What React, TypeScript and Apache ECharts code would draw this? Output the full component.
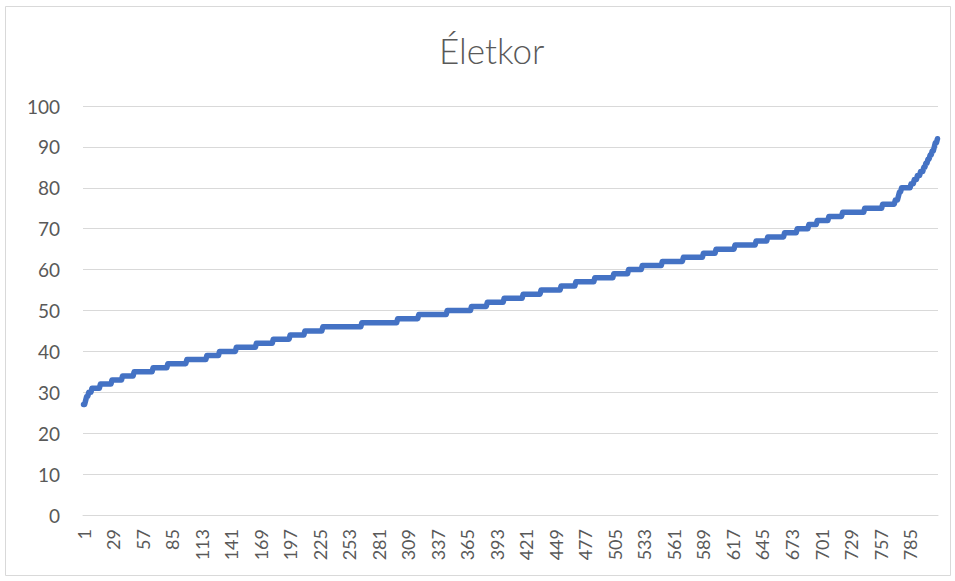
import React, { useEffect, useRef } from "react";
import * as echarts from "echarts";

const chartTitle = "Életkor";

// Sorted ages: each age and how many people have it
const ages = [
  27, 28, 29, 30, 31, 32, 33, 34, 35, 36, 37, 38, 39, 40, 41, 42, 43, 44, 45,
  46, 47, 48, 49, 50, 51, 52, 53, 54, 55, 56, 57, 58, 59, 60, 61, 62, 63, 64,
  65, 66, 67, 68, 69, 70, 71, 72, 73, 74, 75, 76, 77, 78, 79, 80, 81, 82, 83,
  84, 85, 86, 87, 88, 89, 90, 91, 92,
];
const counts = [
  2, 1, 2, 3, 8, 11, 10, 11, 18, 14, 18, 19, 12, 16, 19, 16, 16, 14, 17,
  37, 34, 20, 27, 23, 15, 16, 18, 17, 19, 14, 18, 18, 14, 13, 19, 20, 19, 12,
  18, 20, 11, 16, 12, 11, 8, 11, 13, 21, 17, 12, 3, 1, 2, 9, 3, 3, 3,
  3, 2, 2, 2, 2, 2, 1, 2, 1,
];

const yMin = 0;
const yMax = 100;
const yStep = 10;
const xLabelEvery = 28;

const values: number[] = [];
ages.forEach((a, i) => {
  for (let k = 0; k < counts[i]; k++) values.push(a);
});
const categories = values.map((_, i) => String(i + 1));

const FONT = "Lato, 'Noto Sans', sans-serif";
const TEXT = "#595959";
const GRID = "#d9d9d9";

export default function App() {
  const ref = useRef<HTMLDivElement>(null);
  useEffect(() => {
    if (!ref.current) return;
    const chart = echarts.init(ref.current, undefined, { renderer: "svg" });
    chart.setOption({
      animation: false,
      backgroundColor: "#ffffff",
      title: {
        text: chartTitle,
        left: 434,
        top: 27,
        textStyle: {
          fontSize: 35,
          fontWeight: 300,
          color: TEXT,
          fontFamily: FONT,
        },
      },
      grid: { left: 83, right: 17, top: 106, bottom: 66, containLabel: false },
      xAxis: {
        type: "category",
        data: categories,
        boundaryGap: true,
        axisLine: { show: true, lineStyle: { color: GRID, width: 1 } },
        axisTick: { show: false },
        splitLine: { show: false },
        axisLabel: {
          interval: xLabelEvery - 1,
          rotate: 90,
          color: TEXT,
          fontSize: 18,
          fontFamily: FONT,
          margin: 14,
        },
      },
      yAxis: {
        type: "value",
        min: yMin,
        max: yMax,
        interval: yStep,
        axisLine: { show: false },
        axisTick: { show: false },
        splitLine: { lineStyle: { color: GRID, width: 1 } },
        axisLabel: {
          color: TEXT,
          fontSize: 19,
          fontFamily: FONT,
          margin: 23,
        },
      },
      series: [
        {
          type: "line",
          data: values,
          symbol: "none",
          showSymbol: false,
          lineStyle: { color: "#4472C4", width: 5.5, cap: "round", join: "round" },
        },
      ],
      graphic: [
        {
          type: "rect",
          silent: true,
          shape: { x: 5.5, y: 6.5, width: 945, height: 569 },
          style: { fill: "none", stroke: GRID, lineWidth: 1 },
        },
      ],
    });
    return () => chart.dispose();
  }, []);
  return (
    <div
      ref={ref}
      style={{ position: "absolute", left: 0, top: 0, width: 955, height: 581 }}
    />
  );
}
